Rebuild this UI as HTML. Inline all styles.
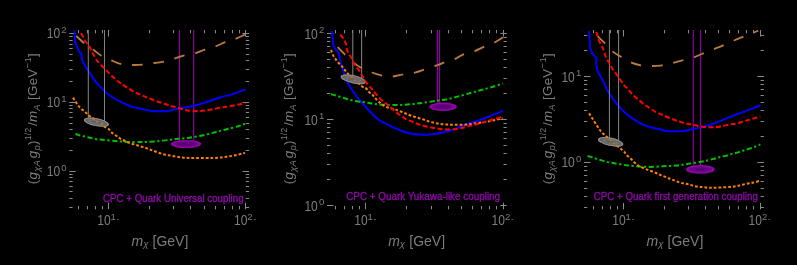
<!DOCTYPE html><html><head><meta charset="utf-8"><style>html,body{margin:0;padding:0;background:#000;overflow:hidden}svg{display:block;will-change:transform;font-family:"Liberation Sans",sans-serif;}</style></head><body>
<svg width="797" height="265" viewBox="0 0 797 265">
<rect width="797" height="265" fill="#000"/>
<g fill="#8a8a8a"><rect x="78" y="206.0" width="1" height="3.3"/><rect x="78" y="30" width="1" height="3.3"/><rect x="87" y="206.0" width="1" height="3.3"/><rect x="87" y="30" width="1" height="3.3"/><rect x="95" y="206.0" width="1" height="3.3"/><rect x="95" y="30" width="1" height="3.3"/><rect x="102" y="206.0" width="1" height="3.3"/><rect x="102" y="30" width="1" height="3.3"/><rect x="108" y="202.8" width="1" height="6.5"/><rect x="108" y="30" width="1" height="6.5"/><rect x="149" y="206.0" width="1" height="3.3"/><rect x="149" y="30" width="1" height="3.3"/><rect x="173" y="206.0" width="1" height="3.3"/><rect x="173" y="30" width="1" height="3.3"/><rect x="190" y="206.0" width="1" height="3.3"/><rect x="190" y="30" width="1" height="3.3"/><rect x="204" y="206.0" width="1" height="3.3"/><rect x="204" y="30" width="1" height="3.3"/><rect x="215" y="206.0" width="1" height="3.3"/><rect x="215" y="30" width="1" height="3.3"/><rect x="224" y="206.0" width="1" height="3.3"/><rect x="224" y="30" width="1" height="3.3"/><rect x="232" y="206.0" width="1" height="3.3"/><rect x="232" y="30" width="1" height="3.3"/><rect x="239" y="206.0" width="1" height="3.3"/><rect x="239" y="30" width="1" height="3.3"/><rect x="245" y="202.8" width="1" height="6.5"/><rect x="245" y="30" width="1" height="6.5"/><rect x="69.3" y="207" width="3.3" height="1"/><rect x="245.8" y="207" width="3.3" height="1"/><rect x="69.3" y="198" width="3.3" height="1"/><rect x="245.8" y="198" width="3.3" height="1"/><rect x="69.3" y="191" width="3.3" height="1"/><rect x="245.8" y="191" width="3.3" height="1"/><rect x="69.3" y="186" width="3.3" height="1"/><rect x="245.8" y="186" width="3.3" height="1"/><rect x="69.3" y="181" width="3.3" height="1"/><rect x="245.8" y="181" width="3.3" height="1"/><rect x="69.3" y="177" width="3.3" height="1"/><rect x="245.8" y="177" width="3.3" height="1"/><rect x="69.3" y="174" width="3.3" height="1"/><rect x="245.8" y="174" width="3.3" height="1"/><rect x="69.3" y="171" width="6.5" height="1"/><rect x="242.6" y="171" width="6.5" height="1"/><rect x="69.3" y="150" width="3.3" height="1"/><rect x="245.8" y="150" width="3.3" height="1"/><rect x="69.3" y="138" width="3.3" height="1"/><rect x="245.8" y="138" width="3.3" height="1"/><rect x="69.3" y="129" width="3.3" height="1"/><rect x="245.8" y="129" width="3.3" height="1"/><rect x="69.3" y="123" width="3.3" height="1"/><rect x="245.8" y="123" width="3.3" height="1"/><rect x="69.3" y="117" width="3.3" height="1"/><rect x="245.8" y="117" width="3.3" height="1"/><rect x="69.3" y="112" width="3.3" height="1"/><rect x="245.8" y="112" width="3.3" height="1"/><rect x="69.3" y="108" width="3.3" height="1"/><rect x="245.8" y="108" width="3.3" height="1"/><rect x="69.3" y="105" width="3.3" height="1"/><rect x="245.8" y="105" width="3.3" height="1"/><rect x="69.3" y="102" width="6.5" height="1"/><rect x="242.6" y="102" width="6.5" height="1"/><rect x="69.3" y="81" width="3.3" height="1"/><rect x="245.8" y="81" width="3.3" height="1"/><rect x="69.3" y="69" width="3.3" height="1"/><rect x="245.8" y="69" width="3.3" height="1"/><rect x="69.3" y="60" width="3.3" height="1"/><rect x="245.8" y="60" width="3.3" height="1"/><rect x="69.3" y="54" width="3.3" height="1"/><rect x="245.8" y="54" width="3.3" height="1"/><rect x="69.3" y="48" width="3.3" height="1"/><rect x="245.8" y="48" width="3.3" height="1"/><rect x="69.3" y="44" width="3.3" height="1"/><rect x="245.8" y="44" width="3.3" height="1"/><rect x="69.3" y="40" width="3.3" height="1"/><rect x="245.8" y="40" width="3.3" height="1"/><rect x="69.3" y="36" width="3.3" height="1"/><rect x="245.8" y="36" width="3.3" height="1"/><rect x="69.3" y="33" width="6.5" height="1"/><rect x="242.6" y="33" width="6.5" height="1"/></g>
<text x="97.2" y="225" font-size="14" textLength="13.4" lengthAdjust="spacingAndGlyphs" fill="#7c7c7c">10</text>
<text x="110.5" y="219.8" font-size="9.5" fill="#7c7c7c">1</text>
<rect x="117.0" y="219" width="1.8" height="1" fill="#7c7c7c" opacity="0.7"/>
<text x="234.0" y="225" font-size="14" textLength="13.4" lengthAdjust="spacingAndGlyphs" fill="#7c7c7c">10</text>
<text x="247.3" y="219.8" font-size="9.5" fill="#7c7c7c">2</text>
<rect x="253.8" y="219" width="1.8" height="1" fill="#7c7c7c" opacity="0.7"/>
<text x="46.7" y="176.2" font-size="14" textLength="13.4" lengthAdjust="spacingAndGlyphs" fill="#7c7c7c">10</text>
<text x="61.3" y="170.9" font-size="9.5" fill="#7c7c7c">0</text>
<text x="46.7" y="107.3" font-size="14" textLength="13.4" lengthAdjust="spacingAndGlyphs" fill="#7c7c7c">10</text>
<text x="61.3" y="102.0" font-size="9.5" fill="#7c7c7c">1</text>
<text x="46.7" y="38.4" font-size="14" textLength="13.4" lengthAdjust="spacingAndGlyphs" fill="#7c7c7c">10</text>
<text x="61.3" y="33.1" font-size="9.5" fill="#7c7c7c">2</text>
<clipPath id="c0"><rect x="69.3" y="30" width="179.8" height="179.3"/></clipPath>
<g clip-path="url(#c0)">
<path stroke="#8c00a2" stroke-width="1.2" d="M179.5,30V141M193.7,30V141"/>
<path d="M74.50,30.50 C74.57,31.42 74.83,34.32 74.90,36.00 C74.97,37.68 74.77,39.33 74.90,40.60 C75.03,41.87 75.38,42.67 75.70,43.60 C76.02,44.53 76.43,45.32 76.80,46.20 C77.17,47.08 77.47,47.97 77.90,48.90 C78.33,49.83 78.83,51.00 79.40,51.80 C79.97,52.60 80.92,52.82 81.30,53.70 C81.68,54.58 81.50,55.92 81.70,57.10 C81.90,58.28 82.05,59.62 82.50,60.80 C82.95,61.98 83.78,63.07 84.40,64.20 C85.02,65.33 85.47,66.43 86.20,67.60 C86.93,68.77 87.82,69.72 88.80,71.20 C89.78,72.68 90.67,74.40 92.10,76.50 C93.53,78.60 95.42,81.48 97.40,83.80 C99.38,86.12 102.23,88.65 104.00,90.40 C105.77,92.15 106.13,92.87 108.00,94.30 C109.87,95.73 112.45,97.45 115.20,99.00 C117.95,100.55 121.63,102.28 124.50,103.60 C127.37,104.92 129.53,106.02 132.40,106.90 C135.27,107.78 138.62,108.23 141.70,108.90 C144.78,109.57 147.85,110.52 150.90,110.90 C153.95,111.28 157.13,111.20 160.00,111.20 C162.87,111.20 164.82,111.37 168.10,110.90 C171.38,110.43 175.35,109.25 179.70,108.40 C184.05,107.55 189.58,106.90 194.20,105.80 C198.82,104.70 203.00,103.23 207.40,101.80 C211.80,100.37 216.20,98.52 220.60,97.20 C225.00,95.88 229.65,95.23 233.80,93.90 C237.95,92.57 243.55,89.98 245.50,89.20" fill="none" stroke="#0000ff" stroke-width="2" stroke-linejoin="round"/>
<path stroke="#808080" stroke-width="1.05" d="M88.3,30V119.5M104.5,30V123"/>
<g transform="translate(96.4,122.2) rotate(11.3)"><ellipse rx="12.7" ry="4.0" fill="#909090"/><ellipse rx="11.30" ry="2.90" fill="#626262"/><ellipse rx="8.64" ry="2.00" fill="#727272"/><ellipse rx="5.33" ry="1.12" fill="#5e5e5e"/></g>
<path d="M75.60,133.60 C76.03,133.82 76.88,134.47 78.20,134.90 C79.52,135.33 81.73,135.77 83.50,136.20 C85.27,136.63 86.82,137.05 88.80,137.50 C90.78,137.95 93.08,138.52 95.40,138.90 C97.72,139.28 99.50,139.47 102.70,139.80 C105.90,140.13 110.53,140.55 114.60,140.90 C118.67,141.25 122.82,141.73 127.10,141.90 C131.38,142.07 137.15,141.88 140.30,141.90 C143.45,141.92 143.18,142.12 146.00,142.00 C148.82,141.88 153.13,141.57 157.20,141.20 C161.27,140.83 166.88,140.20 170.40,139.80 C173.92,139.40 175.10,139.15 178.30,138.80 C181.50,138.45 185.63,138.25 189.60,137.70 C193.57,137.15 197.82,136.42 202.10,135.50 C206.38,134.58 211.33,133.20 215.30,132.20 C219.27,131.20 221.93,130.53 225.90,129.50 C229.87,128.47 235.83,126.98 239.10,126.00 C242.37,125.02 244.43,124.00 245.50,123.60" fill="none" stroke="#00c000" stroke-width="2" stroke-dasharray="5.2 2.5 2.2 2.6"/>
<path d="M76.30,35.90 C77.73,37.23 82.05,41.58 84.90,43.90 C87.75,46.22 90.65,47.82 93.40,49.80 C96.15,51.78 98.42,54.03 101.40,55.80 C104.38,57.57 107.90,58.98 111.30,60.40 C114.70,61.82 118.18,63.53 121.80,64.30 C125.42,65.07 129.47,64.95 133.00,65.00 C136.53,65.05 139.47,64.93 143.00,64.60 C146.53,64.27 150.60,63.52 154.20,63.00 C157.80,62.48 161.13,62.27 164.60,61.50 C168.07,60.73 171.72,59.42 175.00,58.40 C178.28,57.38 180.88,56.28 184.30,55.40 C187.72,54.52 192.08,54.07 195.50,53.10 C198.92,52.13 201.50,50.70 204.80,49.60 C208.10,48.50 211.90,47.73 215.30,46.50 C218.70,45.27 221.90,43.45 225.20,42.20 C228.50,40.95 231.80,40.27 235.10,39.00 C238.40,37.73 243.35,35.33 245.00,34.60" fill="none" stroke="#bb7a3c" stroke-width="1.8" stroke-dasharray="10.7 10.8"/>
<path d="M73.00,97.60 C73.43,98.27 74.73,100.27 75.60,101.60 C76.47,102.93 77.22,104.38 78.20,105.60 C79.18,106.82 80.28,107.80 81.50,108.90 C82.72,110.00 84.28,111.10 85.50,112.20 C86.72,113.30 87.58,114.52 88.80,115.50 C90.02,116.48 91.58,117.12 92.80,118.10 C94.02,119.08 94.78,120.52 96.10,121.40 C97.42,122.28 99.32,122.52 100.70,123.40 C102.08,124.28 103.08,125.77 104.40,126.70 C105.72,127.63 107.45,128.07 108.60,129.00 C109.75,129.93 110.20,131.30 111.30,132.30 C112.40,133.30 114.00,134.13 115.20,135.00 C116.40,135.87 117.28,136.70 118.50,137.50 C119.72,138.30 121.07,139.05 122.50,139.80 C123.93,140.55 125.67,141.38 127.10,142.00 C128.53,142.62 129.67,143.03 131.10,143.50 C132.53,143.97 134.17,144.33 135.70,144.80 C137.23,145.27 138.83,145.85 140.30,146.30 C141.77,146.75 143.17,147.07 144.50,147.50 C145.83,147.93 146.85,148.37 148.30,148.90 C149.75,149.43 150.83,149.85 153.20,150.70 C155.57,151.55 159.42,153.15 162.50,154.00 C165.58,154.85 168.52,155.23 171.70,155.80 C174.88,156.37 178.55,157.05 181.60,157.40 C184.65,157.75 185.93,157.82 190.00,157.90 C194.07,157.98 201.67,157.90 206.00,157.90 C210.33,157.90 212.80,158.07 216.00,157.90 C219.20,157.73 222.02,157.33 225.20,156.90 C228.38,156.47 231.80,155.97 235.10,155.30 C238.40,154.63 243.35,153.30 245.00,152.90" fill="none" stroke="#ff8000" stroke-width="2" stroke-dasharray="2.75 2"/>
<g opacity="0.55" transform="translate(96.4,122.2) rotate(11.3)"><ellipse rx="12.7" ry="4.0" fill="#909090"/><ellipse rx="11.30" ry="2.90" fill="#626262"/><ellipse rx="8.64" ry="2.00" fill="#727272"/><ellipse rx="5.33" ry="1.12" fill="#5e5e5e"/></g>
<g transform="translate(186,144) rotate(0)"><ellipse rx="15.2" ry="4.1" fill="#8e06a6"/><ellipse rx="12.16" ry="2.79" fill="#6c0086"/><ellipse rx="8.36" ry="1.64" fill="#5c0074"/></g>
<path d="M80.90,33.20 C81.33,33.88 82.73,35.92 83.50,37.30 C84.27,38.68 84.62,40.13 85.50,41.50 C86.38,42.87 87.80,43.90 88.80,45.50 C89.80,47.10 90.63,49.43 91.50,51.10 C92.37,52.77 92.95,53.77 94.00,55.50 C95.05,57.23 96.47,59.75 97.80,61.50 C99.13,63.25 100.20,64.15 102.00,66.00 C103.80,67.85 106.50,70.52 108.60,72.60 C110.70,74.68 112.62,76.75 114.60,78.50 C116.58,80.25 118.52,81.67 120.50,83.10 C122.48,84.53 124.30,85.67 126.50,87.10 C128.70,88.53 131.40,90.45 133.70,91.70 C136.00,92.95 138.33,93.75 140.30,94.60 C142.27,95.45 143.12,95.82 145.50,96.80 C147.88,97.78 151.77,99.45 154.60,100.50 C157.43,101.55 159.87,102.22 162.50,103.10 C165.13,103.98 168.20,105.13 170.40,105.80 C172.60,106.47 173.50,106.45 175.70,107.10 C177.90,107.75 180.95,109.05 183.60,109.70 C186.25,110.35 188.95,110.78 191.60,111.00 C194.25,111.22 196.87,111.15 199.50,111.00 C202.13,110.85 203.88,110.65 207.40,110.10 C210.92,109.55 217.08,108.32 220.60,107.70 C224.12,107.08 225.42,106.95 228.50,106.40 C231.58,105.85 236.27,104.95 239.10,104.40 C241.93,103.85 244.43,103.32 245.50,103.10" fill="none" stroke="#ff0000" stroke-width="2" stroke-dasharray="5 2.5"/>
</g>
<text x="103" y="201.7" font-size="10" textLength="140.6" lengthAdjust="spacingAndGlyphs" fill="#8c08a6" stroke="#8c08a6" stroke-width="0.35">CPC + Quark Universal coupling</text>
<text x="131.5" y="245.6" font-size="14" fill="#7c7c7c"><tspan font-style="italic">m</tspan><tspan font-size="9.5" dy="1.8" font-style="italic">χ</tspan><tspan dy="-1.8" dx="0.3"> [GeV]</tspan></text>
<text transform="translate(36.6,184.3) rotate(-90)" font-size="13.4" textLength="131" lengthAdjust="spacing" fill="#7c7c7c">(<tspan font-style="italic">g</tspan><tspan font-size="9.5" dy="3" font-style="italic">χA</tspan><tspan dy="-3" dx="1.5" font-style="italic">g</tspan><tspan font-size="9.5" dy="3" font-style="italic">p</tspan><tspan dy="-3">)</tspan><tspan font-size="8.5" dy="-6">1/2</tspan><tspan dy="6" dx="1.5">/</tspan><tspan font-style="italic">m</tspan><tspan font-size="9.5" dy="3" font-style="italic">A</tspan><tspan dy="-3"> [GeV</tspan><tspan font-size="9.5" dy="-6">−1</tspan><tspan dy="6">]</tspan></text>
<g fill="#8a8a8a"><rect x="335" y="206.0" width="1" height="3.3"/><rect x="335" y="30" width="1" height="3.3"/><rect x="344" y="206.0" width="1" height="3.3"/><rect x="344" y="30" width="1" height="3.3"/><rect x="352" y="206.0" width="1" height="3.3"/><rect x="352" y="30" width="1" height="3.3"/><rect x="359" y="206.0" width="1" height="3.3"/><rect x="359" y="30" width="1" height="3.3"/><rect x="365" y="202.8" width="1" height="6.5"/><rect x="365" y="30" width="1" height="6.5"/><rect x="406" y="206.0" width="1" height="3.3"/><rect x="406" y="30" width="1" height="3.3"/><rect x="431" y="206.0" width="1" height="3.3"/><rect x="431" y="30" width="1" height="3.3"/><rect x="448" y="206.0" width="1" height="3.3"/><rect x="448" y="30" width="1" height="3.3"/><rect x="461" y="206.0" width="1" height="3.3"/><rect x="461" y="30" width="1" height="3.3"/><rect x="472" y="206.0" width="1" height="3.3"/><rect x="472" y="30" width="1" height="3.3"/><rect x="481" y="206.0" width="1" height="3.3"/><rect x="481" y="30" width="1" height="3.3"/><rect x="489" y="206.0" width="1" height="3.3"/><rect x="489" y="30" width="1" height="3.3"/><rect x="496" y="206.0" width="1" height="3.3"/><rect x="496" y="30" width="1" height="3.3"/><rect x="503" y="202.8" width="1" height="6.5"/><rect x="503" y="30" width="1" height="6.5"/><rect x="327" y="205" width="6.5" height="1"/><rect x="500.3" y="205" width="6.5" height="1"/><rect x="327" y="179" width="3.3" height="1"/><rect x="503.5" y="179" width="3.3" height="1"/><rect x="327" y="164" width="3.3" height="1"/><rect x="503.5" y="164" width="3.3" height="1"/><rect x="327" y="153" width="3.3" height="1"/><rect x="503.5" y="153" width="3.3" height="1"/><rect x="327" y="145" width="3.3" height="1"/><rect x="503.5" y="145" width="3.3" height="1"/><rect x="327" y="138" width="3.3" height="1"/><rect x="503.5" y="138" width="3.3" height="1"/><rect x="327" y="132" width="3.3" height="1"/><rect x="503.5" y="132" width="3.3" height="1"/><rect x="327" y="127" width="3.3" height="1"/><rect x="503.5" y="127" width="3.3" height="1"/><rect x="327" y="123" width="3.3" height="1"/><rect x="503.5" y="123" width="3.3" height="1"/><rect x="327" y="119" width="6.5" height="1"/><rect x="500.3" y="119" width="6.5" height="1"/><rect x="327" y="93" width="3.3" height="1"/><rect x="503.5" y="93" width="3.3" height="1"/><rect x="327" y="78" width="3.3" height="1"/><rect x="503.5" y="78" width="3.3" height="1"/><rect x="327" y="67" width="3.3" height="1"/><rect x="503.5" y="67" width="3.3" height="1"/><rect x="327" y="59" width="3.3" height="1"/><rect x="503.5" y="59" width="3.3" height="1"/><rect x="327" y="52" width="3.3" height="1"/><rect x="503.5" y="52" width="3.3" height="1"/><rect x="327" y="46" width="3.3" height="1"/><rect x="503.5" y="46" width="3.3" height="1"/><rect x="327" y="41" width="3.3" height="1"/><rect x="503.5" y="41" width="3.3" height="1"/><rect x="327" y="37" width="3.3" height="1"/><rect x="503.5" y="37" width="3.3" height="1"/><rect x="327" y="33" width="6.5" height="1"/><rect x="500.3" y="33" width="6.5" height="1"/></g>
<text x="354.2" y="225" font-size="14" textLength="13.4" lengthAdjust="spacingAndGlyphs" fill="#7c7c7c">10</text>
<text x="367.5" y="219.8" font-size="9.5" fill="#7c7c7c">1</text>
<rect x="374.0" y="219" width="1.8" height="1" fill="#7c7c7c" opacity="0.7"/>
<text x="491.6" y="225" font-size="14" textLength="13.4" lengthAdjust="spacingAndGlyphs" fill="#7c7c7c">10</text>
<text x="504.9" y="219.8" font-size="9.5" fill="#7c7c7c">2</text>
<rect x="511.4" y="219" width="1.8" height="1" fill="#7c7c7c" opacity="0.7"/>
<text x="304.4" y="210.5" font-size="14" textLength="13.4" lengthAdjust="spacingAndGlyphs" fill="#7c7c7c">10</text>
<text x="319.0" y="205.2" font-size="9.5" fill="#7c7c7c">0</text>
<text x="304.4" y="124.5" font-size="14" textLength="13.4" lengthAdjust="spacingAndGlyphs" fill="#7c7c7c">10</text>
<text x="319.0" y="119.2" font-size="9.5" fill="#7c7c7c">1</text>
<text x="304.4" y="38.6" font-size="14" textLength="13.4" lengthAdjust="spacingAndGlyphs" fill="#7c7c7c">10</text>
<text x="319.0" y="33.3" font-size="9.5" fill="#7c7c7c">2</text>
<clipPath id="c1"><rect x="327" y="30" width="179.8" height="179.3"/></clipPath>
<g clip-path="url(#c1)">
<path stroke="#8c00a2" stroke-width="1.2" d="M437.4,30V103M439.6,30V103"/>
<path d="M332.00,31.00 C332.08,31.93 332.35,34.78 332.50,36.60 C332.65,38.42 332.72,40.35 332.90,41.90 C333.08,43.45 333.15,44.68 333.60,45.90 C334.05,47.12 334.83,48.10 335.60,49.20 C336.37,50.30 337.55,51.30 338.20,52.50 C338.85,53.70 339.20,55.15 339.50,56.40 C339.80,57.65 339.67,58.52 340.00,60.00 C340.33,61.48 340.80,63.10 341.50,65.30 C342.20,67.50 343.32,70.75 344.20,73.20 C345.08,75.65 346.03,78.03 346.80,80.00 C347.57,81.97 347.70,83.07 348.80,85.00 C349.90,86.93 351.97,89.52 353.40,91.60 C354.83,93.68 355.85,95.52 357.40,97.50 C358.95,99.48 360.72,101.28 362.70,103.50 C364.68,105.72 367.10,108.48 369.30,110.80 C371.50,113.12 374.12,115.75 375.90,117.40 C377.68,119.05 378.07,119.53 380.00,120.70 C381.93,121.87 384.98,123.15 387.50,124.40 C390.02,125.65 392.58,127.07 395.10,128.20 C397.62,129.33 400.08,130.32 402.60,131.20 C405.12,132.08 407.43,132.93 410.20,133.50 C412.97,134.07 416.23,134.38 419.20,134.60 C422.17,134.82 424.97,134.97 428.00,134.80 C431.03,134.63 434.08,134.20 437.40,133.60 C440.72,133.00 444.38,132.20 447.90,131.20 C451.42,130.20 455.42,128.77 458.50,127.60 C461.58,126.43 462.88,125.43 466.40,124.20 C469.92,122.97 475.20,121.75 479.60,120.20 C484.00,118.65 488.87,116.45 492.80,114.90 C496.73,113.35 501.47,111.57 503.20,110.90" fill="none" stroke="#0000ff" stroke-width="2" stroke-linejoin="round"/>
<path stroke="#808080" stroke-width="1.05" d="M352.8,30V75.5M361.6,30V78"/>
<g transform="translate(353.3,79.3) rotate(12.7)"><ellipse rx="12.9" ry="4.1" fill="#909090"/><ellipse rx="11.50" ry="3.00" fill="#626262"/><ellipse rx="8.77" ry="2.05" fill="#727272"/><ellipse rx="5.42" ry="1.15" fill="#5e5e5e"/></g>
<path d="M331.00,94.20 C331.87,94.43 334.33,95.05 336.20,95.60 C338.07,96.15 340.10,96.85 342.20,97.50 C344.30,98.15 346.72,98.93 348.80,99.50 C350.88,100.07 352.62,100.50 354.70,100.90 C356.78,101.30 359.08,101.58 361.30,101.90 C363.52,102.22 365.78,102.47 368.00,102.80 C370.22,103.13 371.97,103.57 374.60,103.90 C377.23,104.23 380.28,104.60 383.80,104.80 C387.32,105.00 392.18,105.10 395.70,105.10 C399.22,105.10 401.82,105.00 404.90,104.80 C407.98,104.60 411.12,104.23 414.20,103.90 C417.28,103.57 419.72,103.32 423.40,102.80 C427.08,102.28 432.17,101.43 436.30,100.80 C440.43,100.17 444.23,99.82 448.20,99.00 C452.17,98.18 456.13,96.97 460.10,95.90 C464.07,94.83 468.47,93.58 472.00,92.60 C475.53,91.62 478.10,90.88 481.30,90.00 C484.50,89.12 487.58,88.38 491.20,87.30 C494.82,86.22 501.03,84.13 503.00,83.50" fill="none" stroke="#00c000" stroke-width="2" stroke-dasharray="5.2 2.5 2.2 2.6"/>
<path d="M337.60,47.20 C338.92,48.52 342.87,52.53 345.50,55.10 C348.13,57.67 350.53,60.35 353.40,62.60 C356.27,64.85 359.62,66.95 362.70,68.60 C365.78,70.25 368.60,71.33 371.90,72.50 C375.20,73.67 378.98,74.93 382.50,75.60 C386.02,76.27 389.48,76.73 393.00,76.50 C396.52,76.27 399.97,74.85 403.60,74.20 C407.23,73.55 411.17,73.43 414.80,72.60 C418.43,71.77 421.37,70.53 425.40,69.20 C429.43,67.87 435.85,65.73 439.00,64.60 C442.15,63.47 441.67,63.32 444.30,62.40 C446.93,61.48 451.62,60.43 454.80,59.10 C457.98,57.77 460.08,55.73 463.40,54.40 C466.72,53.07 471.17,52.42 474.70,51.10 C478.23,49.78 481.30,47.93 484.60,46.50 C487.90,45.07 491.42,44.03 494.50,42.50 C497.58,40.97 501.67,38.17 503.10,37.30" fill="none" stroke="#bb7a3c" stroke-width="1.8" stroke-dasharray="10.7 10.8"/>
<path d="M331.00,49.80 C331.33,50.68 332.23,53.55 333.00,55.10 C333.77,56.65 334.62,57.73 335.60,59.10 C336.58,60.47 337.80,62.05 338.90,63.30 C340.00,64.55 341.22,65.50 342.20,66.60 C343.18,67.70 343.82,68.68 344.80,69.90 C345.78,71.12 346.33,72.13 348.10,73.90 C349.87,75.67 353.08,78.42 355.40,80.50 C357.72,82.58 360.18,85.05 362.00,86.40 C363.82,87.75 365.08,87.62 366.30,88.60 C367.52,89.58 368.25,91.25 369.30,92.30 C370.35,93.35 371.62,93.92 372.60,94.90 C373.58,95.88 374.22,97.10 375.20,98.20 C376.18,99.30 377.28,100.40 378.50,101.50 C379.72,102.60 380.95,103.80 382.50,104.80 C384.05,105.80 385.60,106.70 387.80,107.50 C390.00,108.30 393.07,108.73 395.70,109.60 C398.33,110.47 400.93,111.65 403.60,112.70 C406.27,113.75 408.77,114.88 411.70,115.90 C414.63,116.92 418.20,117.83 421.20,118.80 C424.20,119.77 426.73,120.88 429.70,121.70 C432.67,122.52 435.97,123.22 439.00,123.70 C442.03,124.18 444.87,124.42 447.90,124.60 C450.93,124.78 454.12,124.80 457.20,124.80 C460.28,124.80 463.55,124.82 466.40,124.60 C469.25,124.38 471.43,123.90 474.30,123.50 C477.17,123.10 480.52,122.68 483.60,122.20 C486.68,121.72 489.65,121.30 492.80,120.60 C495.95,119.90 500.88,118.43 502.50,118.00" fill="none" stroke="#ff8000" stroke-width="2" stroke-dasharray="2.75 2"/>
<g opacity="0.55" transform="translate(353.3,79.3) rotate(12.7)"><ellipse rx="12.9" ry="4.1" fill="#909090"/><ellipse rx="11.50" ry="3.00" fill="#626262"/><ellipse rx="8.77" ry="2.05" fill="#727272"/><ellipse rx="5.42" ry="1.15" fill="#5e5e5e"/></g>
<g transform="translate(443,106.8) rotate(0)"><ellipse rx="13.9" ry="4.2" fill="#8e06a6"/><ellipse rx="11.12" ry="2.86" fill="#6c0086"/><ellipse rx="7.65" ry="1.68" fill="#5c0074"/></g>
<path d="M340.20,34.60 C340.65,35.15 342.13,36.80 342.90,37.90 C343.67,39.00 344.25,40.10 344.80,41.20 C345.35,42.30 345.87,43.28 346.20,44.50 C346.53,45.72 346.48,47.17 346.80,48.50 C347.12,49.83 347.55,51.28 348.10,52.50 C348.65,53.72 349.43,54.70 350.10,55.80 C350.77,56.90 351.43,57.73 352.10,59.10 C352.77,60.47 353.00,62.20 354.10,64.00 C355.20,65.80 357.27,67.82 358.70,69.90 C360.13,71.98 361.38,74.30 362.70,76.50 C364.02,78.70 365.07,81.00 366.60,83.10 C368.13,85.20 370.25,87.18 371.90,89.10 C373.55,91.02 374.73,92.63 376.50,94.60 C378.27,96.57 380.62,99.20 382.50,100.90 C384.38,102.60 385.82,103.15 387.80,104.80 C389.78,106.45 392.28,109.02 394.40,110.80 C396.52,112.58 398.48,114.08 400.50,115.50 C402.52,116.92 404.48,118.27 406.50,119.30 C408.52,120.33 410.70,120.92 412.60,121.70 C414.50,122.48 416.12,123.33 417.90,124.00 C419.68,124.67 420.52,125.03 423.30,125.70 C426.08,126.37 430.83,127.38 434.60,128.00 C438.37,128.62 442.13,129.25 445.90,129.40 C449.67,129.55 453.78,129.33 457.20,128.90 C460.62,128.47 463.55,127.48 466.40,126.80 C469.25,126.12 471.43,125.57 474.30,124.80 C477.17,124.03 480.52,123.08 483.60,122.20 C486.68,121.32 489.65,120.40 492.80,119.50 C495.95,118.60 500.88,117.25 502.50,116.80" fill="none" stroke="#ff0000" stroke-width="2" stroke-dasharray="5 2.5"/>
</g>
<text x="346.2" y="200" font-size="10" textLength="153.9" lengthAdjust="spacingAndGlyphs" fill="#8c08a6" stroke="#8c08a6" stroke-width="0.35">CPC + Quark Yukawa-like coupling</text>
<text x="388.2" y="245.6" font-size="14" fill="#7c7c7c"><tspan font-style="italic">m</tspan><tspan font-size="9.5" dy="1.8" font-style="italic">χ</tspan><tspan dy="-1.8" dx="0.3"> [GeV]</tspan></text>
<text transform="translate(293.3,184.3) rotate(-90)" font-size="13.4" textLength="131" lengthAdjust="spacing" fill="#7c7c7c">(<tspan font-style="italic">g</tspan><tspan font-size="9.5" dy="3" font-style="italic">χA</tspan><tspan dy="-3" dx="1.5" font-style="italic">g</tspan><tspan font-size="9.5" dy="3" font-style="italic">p</tspan><tspan dy="-3">)</tspan><tspan font-size="8.5" dy="-6">1/2</tspan><tspan dy="6" dx="1.5">/</tspan><tspan font-style="italic">m</tspan><tspan font-size="9.5" dy="3" font-style="italic">A</tspan><tspan dy="-3"> [GeV</tspan><tspan font-size="9.5" dy="-6">−1</tspan><tspan dy="6">]</tspan></text>
<g fill="#8a8a8a"><rect x="593" y="206.1" width="1" height="3.3"/><rect x="593" y="30" width="1" height="3.3"/><rect x="602" y="206.1" width="1" height="3.3"/><rect x="602" y="30" width="1" height="3.3"/><rect x="610" y="206.1" width="1" height="3.3"/><rect x="610" y="30" width="1" height="3.3"/><rect x="617" y="206.1" width="1" height="3.3"/><rect x="617" y="30" width="1" height="3.3"/><rect x="623" y="202.9" width="1" height="6.5"/><rect x="623" y="30" width="1" height="6.5"/><rect x="664" y="206.1" width="1" height="3.3"/><rect x="664" y="30" width="1" height="3.3"/><rect x="688" y="206.1" width="1" height="3.3"/><rect x="688" y="30" width="1" height="3.3"/><rect x="705" y="206.1" width="1" height="3.3"/><rect x="705" y="30" width="1" height="3.3"/><rect x="718" y="206.1" width="1" height="3.3"/><rect x="718" y="30" width="1" height="3.3"/><rect x="729" y="206.1" width="1" height="3.3"/><rect x="729" y="30" width="1" height="3.3"/><rect x="738" y="206.1" width="1" height="3.3"/><rect x="738" y="30" width="1" height="3.3"/><rect x="746" y="206.1" width="1" height="3.3"/><rect x="746" y="30" width="1" height="3.3"/><rect x="753" y="206.1" width="1" height="3.3"/><rect x="753" y="30" width="1" height="3.3"/><rect x="760" y="202.9" width="1" height="6.5"/><rect x="760" y="30" width="1" height="6.5"/><rect x="584" y="207" width="3.3" height="1"/><rect x="760.6" y="207" width="3.3" height="1"/><rect x="584" y="196" width="3.3" height="1"/><rect x="760.6" y="196" width="3.3" height="1"/><rect x="584" y="188" width="3.3" height="1"/><rect x="760.6" y="188" width="3.3" height="1"/><rect x="584" y="181" width="3.3" height="1"/><rect x="760.6" y="181" width="3.3" height="1"/><rect x="584" y="175" width="3.3" height="1"/><rect x="760.6" y="175" width="3.3" height="1"/><rect x="584" y="170" width="3.3" height="1"/><rect x="760.6" y="170" width="3.3" height="1"/><rect x="584" y="166" width="3.3" height="1"/><rect x="760.6" y="166" width="3.3" height="1"/><rect x="584" y="162" width="6.5" height="1"/><rect x="757.4" y="162" width="6.5" height="1"/><rect x="584" y="136" width="3.3" height="1"/><rect x="760.6" y="136" width="3.3" height="1"/><rect x="584" y="121" width="3.3" height="1"/><rect x="760.6" y="121" width="3.3" height="1"/><rect x="584" y="110" width="3.3" height="1"/><rect x="760.6" y="110" width="3.3" height="1"/><rect x="584" y="102" width="3.3" height="1"/><rect x="760.6" y="102" width="3.3" height="1"/><rect x="584" y="95" width="3.3" height="1"/><rect x="760.6" y="95" width="3.3" height="1"/><rect x="584" y="89" width="3.3" height="1"/><rect x="760.6" y="89" width="3.3" height="1"/><rect x="584" y="84" width="3.3" height="1"/><rect x="760.6" y="84" width="3.3" height="1"/><rect x="584" y="80" width="3.3" height="1"/><rect x="760.6" y="80" width="3.3" height="1"/><rect x="584" y="76" width="6.5" height="1"/><rect x="757.4" y="76" width="6.5" height="1"/><rect x="584" y="50" width="3.3" height="1"/><rect x="760.6" y="50" width="3.3" height="1"/><rect x="584" y="35" width="3.3" height="1"/><rect x="760.6" y="35" width="3.3" height="1"/></g>
<text x="612.3" y="225" font-size="14" textLength="13.4" lengthAdjust="spacingAndGlyphs" fill="#7c7c7c">10</text>
<text x="625.6" y="219.8" font-size="9.5" fill="#7c7c7c">1</text>
<rect x="632.1" y="219" width="1.8" height="1" fill="#7c7c7c" opacity="0.7"/>
<text x="748.6" y="225" font-size="14" textLength="13.4" lengthAdjust="spacingAndGlyphs" fill="#7c7c7c">10</text>
<text x="761.9" y="219.8" font-size="9.5" fill="#7c7c7c">2</text>
<rect x="768.4" y="219" width="1.8" height="1" fill="#7c7c7c" opacity="0.7"/>
<text x="561.4" y="167.3" font-size="14" textLength="13.4" lengthAdjust="spacingAndGlyphs" fill="#7c7c7c">10</text>
<text x="576.0" y="162.0" font-size="9.5" fill="#7c7c7c">0</text>
<text x="561.4" y="81.6" font-size="14" textLength="13.4" lengthAdjust="spacingAndGlyphs" fill="#7c7c7c">10</text>
<text x="576.0" y="76.3" font-size="9.5" fill="#7c7c7c">1</text>
<clipPath id="c2"><rect x="584" y="30" width="179.89999999999998" height="179.4"/></clipPath>
<g clip-path="url(#c2)">
<path stroke="#8c00a2" stroke-width="1.2" d="M693.3,30V165.5M700.5,30V165.5"/>
<path d="M589.00,31.00 C589.10,32.15 589.43,35.32 589.60,37.90 C589.77,40.48 589.78,44.52 590.00,46.50 C590.22,48.48 590.42,48.48 590.90,49.80 C591.38,51.12 592.02,53.08 592.90,54.40 C593.78,55.72 595.65,56.43 596.20,57.70 C596.75,58.97 596.15,60.73 596.20,62.00 C596.25,63.27 596.28,63.87 596.50,65.30 C596.72,66.73 596.88,68.83 597.50,70.60 C598.12,72.37 599.20,74.03 600.20,75.90 C601.20,77.77 602.52,79.83 603.50,81.80 C604.48,83.77 605.12,85.72 606.10,87.70 C607.08,89.68 608.62,92.37 609.40,93.70 C610.18,95.03 610.02,94.60 610.80,95.70 C611.58,96.80 612.68,98.43 614.10,100.30 C615.52,102.17 617.32,104.70 619.30,106.90 C621.28,109.10 623.57,111.42 626.00,113.50 C628.43,115.58 631.05,117.53 633.90,119.40 C636.75,121.27 639.80,123.27 643.10,124.70 C646.40,126.13 650.62,127.18 653.70,128.00 C656.78,128.82 659.55,129.10 661.60,129.60 C663.65,130.10 663.77,130.73 666.00,131.00 C668.23,131.27 672.03,131.20 675.00,131.20 C677.97,131.20 681.02,131.32 683.80,131.00 C686.58,130.68 688.62,129.95 691.70,129.30 C694.78,128.65 698.78,128.02 702.30,127.10 C705.82,126.18 709.28,125.03 712.80,123.80 C716.32,122.57 719.87,121.10 723.40,119.70 C726.93,118.30 730.48,116.75 734.00,115.40 C737.52,114.05 740.88,112.97 744.50,111.60 C748.12,110.23 753.05,108.25 755.70,107.20 C758.35,106.15 759.62,105.62 760.40,105.30" fill="none" stroke="#0000ff" stroke-width="2" stroke-linejoin="round"/>
<path stroke="#808080" stroke-width="1.05" d="M609.4,30V137.5M618.6,30V140.6"/>
<g transform="translate(610.6,141.85) rotate(11.8)"><ellipse rx="12.9" ry="4.1" fill="#909090"/><ellipse rx="11.50" ry="3.00" fill="#626262"/><ellipse rx="8.77" ry="2.05" fill="#727272"/><ellipse rx="5.42" ry="1.15" fill="#5e5e5e"/></g>
<path d="M587.60,155.80 C588.48,156.12 590.92,157.05 592.90,157.70 C594.88,158.35 597.30,159.03 599.50,159.70 C601.70,160.37 603.90,161.15 606.10,161.70 C608.30,162.25 610.50,162.60 612.70,163.00 C614.90,163.40 616.83,163.70 619.30,164.10 C621.77,164.50 624.25,165.00 627.50,165.40 C630.75,165.80 635.03,166.25 638.80,166.50 C642.57,166.75 646.13,166.93 650.10,166.90 C654.07,166.87 659.42,166.47 662.60,166.30 C665.78,166.13 666.98,166.03 669.20,165.90 C671.42,165.77 673.68,165.68 675.90,165.50 C678.12,165.32 680.42,165.08 682.50,164.80 C684.58,164.52 686.20,164.15 688.40,163.80 C690.60,163.45 693.38,163.07 695.70,162.70 C698.02,162.33 700.55,161.93 702.30,161.60 C704.05,161.27 704.33,161.15 706.20,160.70 C708.07,160.25 711.30,159.48 713.50,158.90 C715.70,158.32 717.42,157.70 719.40,157.20 C721.38,156.70 723.30,156.45 725.40,155.90 C727.50,155.35 730.02,154.45 732.00,153.90 C733.98,153.35 735.43,153.17 737.30,152.60 C739.17,152.03 741.22,151.13 743.20,150.50 C745.18,149.87 747.22,149.45 749.20,148.80 C751.18,148.15 753.23,147.33 755.10,146.60 C756.97,145.87 759.52,144.77 760.40,144.40" fill="none" stroke="#00c000" stroke-width="2" stroke-dasharray="5.2 2.5 2.2 2.6"/>
<path d="M597.50,36.00 C598.72,37.20 602.37,40.68 604.80,43.20 C607.23,45.72 609.35,48.78 612.10,51.10 C614.85,53.42 618.22,55.25 621.30,57.10 C624.38,58.95 627.62,60.88 630.60,62.20 C633.58,63.52 635.80,64.37 639.20,65.00 C642.60,65.63 647.15,65.95 651.00,66.00 C654.85,66.05 658.77,65.80 662.30,65.30 C665.83,64.80 669.02,63.77 672.20,63.00 C675.38,62.23 678.00,61.57 681.40,60.70 C684.80,59.83 689.22,58.92 692.60,57.80 C695.98,56.68 698.30,55.40 701.70,54.00 C705.10,52.60 709.62,50.77 713.00,49.40 C716.38,48.03 718.80,47.15 722.00,45.80 C725.20,44.45 728.98,42.70 732.20,41.30 C735.42,39.90 738.10,38.68 741.30,37.40 C744.50,36.12 748.58,34.72 751.40,33.60 C754.22,32.48 757.07,31.18 758.20,30.70" fill="none" stroke="#bb7a3c" stroke-width="1.8" stroke-dasharray="10.7 10.8"/>
<path d="M589.00,113.30 C589.57,114.17 591.07,116.43 592.40,118.50 C593.73,120.57 595.70,123.70 597.00,125.70 C598.30,127.70 599.12,129.12 600.20,130.50 C601.28,131.88 602.40,132.95 603.50,134.00 C604.60,135.05 605.60,135.70 606.80,136.80 C608.00,137.90 609.50,139.53 610.70,140.60 C611.90,141.67 612.78,142.22 614.00,143.20 C615.22,144.18 616.78,145.50 618.00,146.50 C619.22,147.50 620.30,148.37 621.30,149.20 C622.30,150.03 623.12,150.53 624.00,151.50 C624.88,152.47 625.50,153.85 626.60,155.00 C627.70,156.15 629.38,157.23 630.60,158.40 C631.82,159.57 632.80,160.93 633.90,162.00 C635.00,163.07 636.18,164.03 637.20,164.80 C638.22,165.57 638.22,165.75 640.00,166.60 C641.78,167.45 645.08,168.78 647.90,169.90 C650.72,171.02 654.67,172.40 656.90,173.30 C659.13,174.20 659.68,174.63 661.30,175.30 C662.92,175.97 665.05,176.68 666.60,177.30 C668.15,177.92 669.17,178.42 670.60,179.00 C672.03,179.58 673.67,180.22 675.20,180.80 C676.73,181.38 678.27,182.05 679.80,182.50 C681.33,182.95 682.85,183.17 684.40,183.50 C685.95,183.83 687.55,184.10 689.10,184.50 C690.65,184.90 692.05,185.50 693.70,185.90 C695.35,186.30 697.35,186.68 699.00,186.90 C700.65,187.12 701.95,187.05 703.60,187.20 C705.25,187.35 707.13,187.70 708.90,187.80 C710.67,187.90 712.00,187.87 714.20,187.80 C716.40,187.73 719.25,187.55 722.10,187.40 C724.95,187.25 728.88,187.12 731.30,186.90 C733.72,186.68 735.05,186.38 736.60,186.10 C738.15,185.82 739.05,185.57 740.60,185.20 C742.15,184.83 744.15,184.28 745.90,183.90 C747.65,183.52 749.57,183.18 751.10,182.90 C752.63,182.62 753.55,182.58 755.10,182.20 C756.65,181.82 759.52,180.87 760.40,180.60" fill="none" stroke="#ff8000" stroke-width="2" stroke-dasharray="2.75 2"/>
<g opacity="0.55" transform="translate(610.6,141.85) rotate(11.8)"><ellipse rx="12.9" ry="4.1" fill="#909090"/><ellipse rx="11.50" ry="3.00" fill="#626262"/><ellipse rx="8.77" ry="2.05" fill="#727272"/><ellipse rx="5.42" ry="1.15" fill="#5e5e5e"/></g>
<g transform="translate(700.3,169.4) rotate(0)"><ellipse rx="14.5" ry="4.3" fill="#8e06a6"/><ellipse rx="11.60" ry="2.92" fill="#6c0086"/><ellipse rx="7.98" ry="1.72" fill="#5c0074"/></g>
<path d="M596.20,32.00 C596.42,32.55 597.05,33.87 597.50,35.30 C597.95,36.73 598.12,38.73 598.90,40.60 C599.68,42.47 601.43,44.97 602.20,46.50 C602.97,48.03 603.07,48.58 603.50,49.80 C603.93,51.02 604.37,52.48 604.80,53.80 C605.23,55.12 605.55,56.47 606.10,57.70 C606.65,58.93 607.43,60.12 608.10,61.20 C608.77,62.28 609.33,62.87 610.10,64.20 C610.87,65.53 611.60,67.48 612.70,69.20 C613.80,70.92 615.37,72.62 616.70,74.50 C618.03,76.38 619.38,78.62 620.70,80.50 C622.02,82.38 623.28,84.27 624.60,85.80 C625.92,87.33 627.27,88.20 628.60,89.70 C629.93,91.20 631.07,93.25 632.60,94.80 C634.13,96.35 636.05,97.53 637.80,99.00 C639.55,100.47 641.12,102.07 643.10,103.60 C645.08,105.13 647.50,106.77 649.70,108.20 C651.90,109.63 654.33,111.15 656.30,112.20 C658.27,113.25 659.30,113.53 661.50,114.50 C663.70,115.47 666.83,116.92 669.50,118.00 C672.17,119.08 674.85,120.13 677.50,121.00 C680.15,121.87 683.03,122.63 685.40,123.20 C687.77,123.77 689.55,123.93 691.70,124.40 C693.85,124.87 695.88,125.55 698.30,126.00 C700.72,126.45 703.55,126.92 706.20,127.10 C708.85,127.28 711.77,127.22 714.20,127.10 C716.63,126.98 718.17,126.85 720.80,126.40 C723.43,125.95 727.37,124.87 730.00,124.40 C732.63,123.93 734.18,124.15 736.60,123.60 C739.02,123.05 742.08,121.83 744.50,121.10 C746.92,120.37 748.45,119.95 751.10,119.20 C753.75,118.45 758.85,117.03 760.40,116.60" fill="none" stroke="#ff0000" stroke-width="2" stroke-dasharray="5 2.5"/>
</g>
<text x="593.8" y="200" font-size="10" textLength="164" lengthAdjust="spacingAndGlyphs" fill="#8c08a6" stroke="#8c08a6" stroke-width="0.35">CPC + Quark first generation coupling</text>
<text x="646.5" y="245.6" font-size="14" fill="#7c7c7c"><tspan font-style="italic">m</tspan><tspan font-size="9.5" dy="1.8" font-style="italic">χ</tspan><tspan dy="-1.8" dx="0.3"> [GeV]</tspan></text>
<text transform="translate(551.6,184.3) rotate(-90)" font-size="13.4" textLength="131" lengthAdjust="spacing" fill="#7c7c7c">(<tspan font-style="italic">g</tspan><tspan font-size="9.5" dy="3" font-style="italic">χA</tspan><tspan dy="-3" dx="1.5" font-style="italic">g</tspan><tspan font-size="9.5" dy="3" font-style="italic">p</tspan><tspan dy="-3">)</tspan><tspan font-size="8.5" dy="-6">1/2</tspan><tspan dy="6" dx="1.5">/</tspan><tspan font-style="italic">m</tspan><tspan font-size="9.5" dy="3" font-style="italic">A</tspan><tspan dy="-3"> [GeV</tspan><tspan font-size="9.5" dy="-6">−1</tspan><tspan dy="6">]</tspan></text>
</svg></body></html>
